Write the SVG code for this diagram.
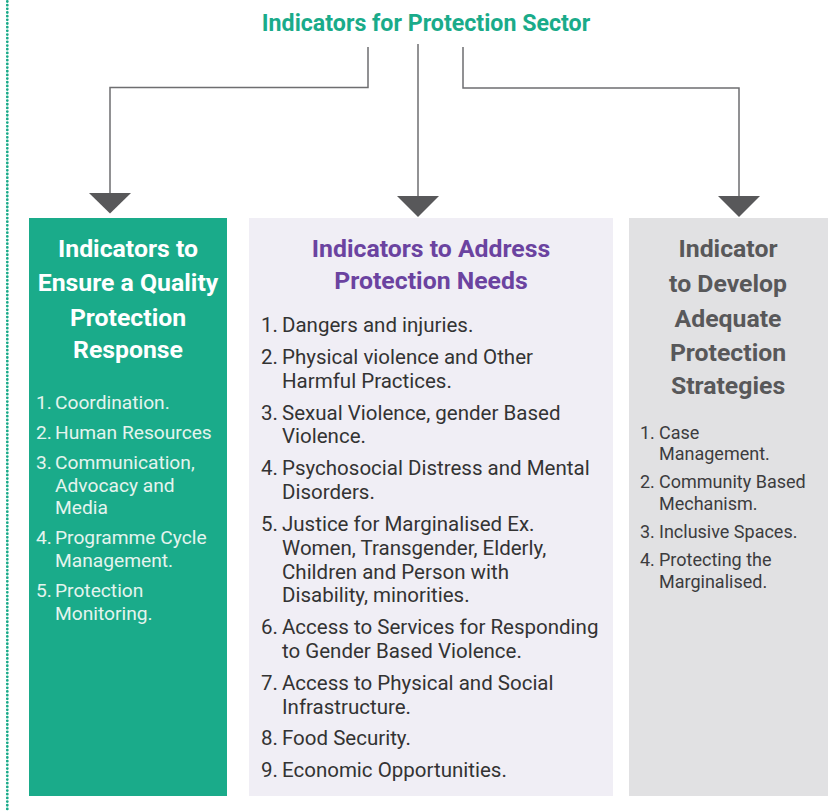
<svg xmlns="http://www.w3.org/2000/svg" width="837" height="812" viewBox="0 0 837 812">
<style>
  .title { font-family: Roboto, "Liberation Sans", sans-serif; font-weight: 700; font-size: 23.2px; fill: #1aab8a; }
  .head { font-family: Roboto, "Liberation Sans", sans-serif; font-weight: 700; font-size: 24.8px; text-anchor: middle; }
  .list { font-family: Roboto, "Liberation Sans", sans-serif; font-weight: 400; }
  .conn { fill: none; stroke: #6e6e70; stroke-width: 1.5; }
  .head-arrow { fill: #58585a; }
</style>
<rect x="0" y="0" width="837" height="812" fill="#ffffff"/>
<line x1="7.3" y1="1.5" x2="7.3" y2="812" stroke="#1aab8a" stroke-width="2.8" stroke-linecap="round" stroke-dasharray="0 3.67"/>

<g id="title">
  <text class="title" x="426" y="31" text-anchor="middle">Indicators for Protection Sector</text>
</g>

<g id="connectors">
  <path class="conn" d="M368 47 V87.5 H110 V194"/>
  <path class="conn" d="M418 44 V197"/>
  <path class="conn" d="M463 47 V88 H739 V197"/>
  <polygon class="head-arrow" points="89,193 131,193 110,213.5"/>
  <polygon class="head-arrow" points="397,196 439,196 418,217"/>
  <polygon class="head-arrow" points="718,196 760,196 739,217"/>
</g>

<g id="node-quality">
  <rect x="29" y="218" width="198" height="578" fill="#1aab8a"/>
  <text class="head" fill="#ffffff" x="128" y="257">Indicators to</text>
  <text class="head" fill="#ffffff" x="128" y="291">Ensure a Quality</text>
  <text class="head" fill="#ffffff" x="128" y="325.5">Protection</text>
  <text class="head" fill="#ffffff" x="128" y="358">Response</text>
  <g class="list" font-size="19.2" fill="#e4f4ee">
    <text x="36" y="409">1.</text><text x="55" y="409">Coordination.</text>
    <text x="36" y="439">2.</text><text x="55" y="439">Human Resources</text>
    <text x="36" y="469">3.</text><text x="55" y="469">Communication,</text>
    <text x="55" y="491.5">Advocacy and</text>
    <text x="55" y="514">Media</text>
    <text x="36" y="544">4.</text><text x="55" y="544">Programme Cycle</text>
    <text x="55" y="566.5">Management.</text>
    <text x="36" y="597">5.</text><text x="55" y="597">Protection</text>
    <text x="55" y="619.5">Monitoring.</text>
  </g>
</g>

<g id="node-needs">
  <rect x="249" y="218" width="364" height="578" fill="#f0eef5"/>
  <text class="head" fill="#6b43a0" x="431" y="257">Indicators to Address</text>
  <text class="head" fill="#6b43a0" x="431" y="289">Protection Needs</text>
  <g class="list" font-size="20.5" fill="#333333">
    <text x="261" y="332">1.</text><text x="282" y="332">Dangers and injuries.</text>
    <text x="261" y="363.5">2.</text><text x="282" y="363.5">Physical violence and Other</text>
    <text x="282" y="387.5">Harmful Practices.</text>
    <text x="261" y="419.5">3.</text><text x="282" y="419.5">Sexual Violence, gender Based</text>
    <text x="282" y="443">Violence.</text>
    <text x="261" y="475">4.</text><text x="282" y="475">Psychosocial Distress and Mental</text>
    <text x="282" y="498.5">Disorders.</text>
    <text x="261" y="530.5">5.</text><text x="282" y="530.5">Justice for Marginalised Ex.</text>
    <text x="282" y="554.5">Women, Transgender, Elderly,</text>
    <text x="282" y="578.5">Children and Person with</text>
    <text x="282" y="602">Disability, minorities.</text>
    <text x="261" y="634">6.</text><text x="282" y="634">Access to Services for Responding</text>
    <text x="282" y="658">to Gender Based Violence.</text>
    <text x="261" y="689.5">7.</text><text x="282" y="689.5">Access to Physical and Social</text>
    <text x="282" y="713.5">Infrastructure.</text>
    <text x="261" y="745">8.</text><text x="282" y="745">Food Security.</text>
    <text x="261" y="776.5">9.</text><text x="282" y="776.5">Economic Opportunities.</text>
  </g>
</g>

<g id="node-strategies">
  <rect x="629" y="218" width="199" height="578" fill="#e1e1e3"/>
  <text class="head" fill="#58585a" x="728" y="257">Indicator</text>
  <text class="head" fill="#58585a" x="728" y="292">to Develop</text>
  <text class="head" fill="#58585a" x="728" y="326.5">Adequate</text>
  <text class="head" fill="#58585a" x="728" y="361">Protection</text>
  <text class="head" fill="#58585a" x="728" y="394">Strategies</text>
  <g class="list" font-size="18" fill="#3c3c3e">
    <text x="640" y="439">1.</text><text x="659" y="439">Case</text>
    <text x="659" y="460">Management.</text>
    <text x="640" y="488">2.</text><text x="659" y="488">Community Based</text>
    <text x="659" y="509.5">Mechanism.</text>
    <text x="640" y="538">3.</text><text x="659" y="538">Inclusive Spaces.</text>
    <text x="640" y="566">4.</text><text x="659" y="566">Protecting the</text>
    <text x="659" y="587.5">Marginalised.</text>
  </g>
</g>
</svg>
